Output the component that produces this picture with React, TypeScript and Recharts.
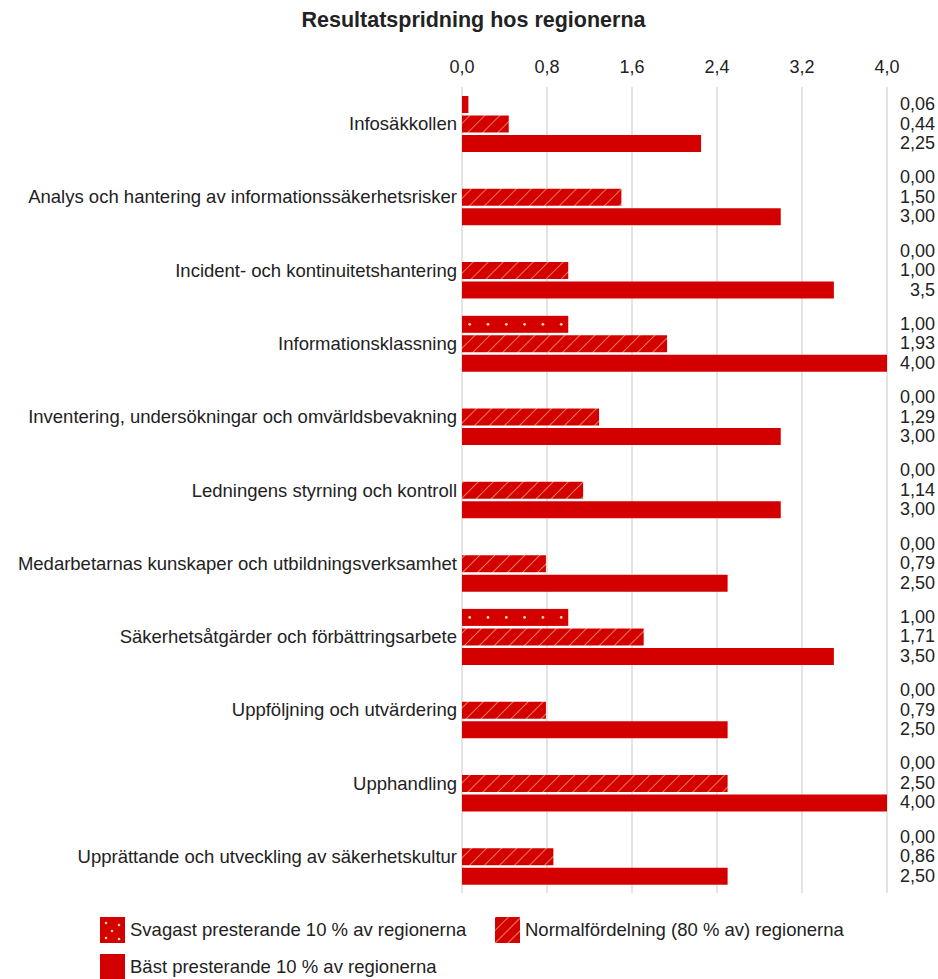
import { BarChart, Bar, XAxis, YAxis, CartesianGrid, LabelList } from 'recharts';

const categories = [
  'Infosäkkollen',
  'Analys och hantering av informationssäkerhetsrisker',
  'Incident- och kontinuitetshantering',
  'Informationsklassning',
  'Inventering, undersökningar och omvärldsbevakning',
  'Ledningens styrning och kontroll',
  'Medarbetarnas kunskaper och utbildningsverksamhet',
  'Säkerhetsåtgärder och förbättringsarbete',
  'Uppföljning och utvärdering',
  'Upphandling',
  'Upprättande och utveckling av säkerhetskultur',
];

const weakest = [0.06, 0, 0, 1.0, 0, 0, 0, 1.0, 0, 0, 0];
const normal = [0.44, 1.5, 1.0, 1.93, 1.29, 1.14, 0.79, 1.71, 0.79, 2.5, 0.86];
const best = [2.25, 3.0, 3.5, 4.0, 3.0, 3.0, 2.5, 3.5, 2.5, 4.0, 2.5];

const xTicks = [0, 0.8, 1.6, 2.4, 3.2, 4.0];

const seriesNames = {
  weakest: 'Svagast presterande 10 % av regionerna',
  normal: 'Normalfördelning (80 % av) regionerna',
  best: 'Bäst presterande 10 % av regionerna',
};

// one value in the source is printed with a single decimal
const labelOverrides: Record<string, string> = {
  'best|Incident- och kontinuitetshantering': '3,5',
};

const RED = '#d40000';
const TEXT = '#222';
const FONT = '"Liberation Sans", Arial, sans-serif';
const FS = 18.5;

const data = categories.map((name, i) => ({
  name,
  weakest: weakest[i],
  normal: normal[i],
  best: best[i],
}));

function fmt(v: number, decimals: number) {
  return v.toFixed(decimals).replace('.', ',');
}

function DottedBar(props: any) {
  const { x, y, width, height } = props;
  if (!width || width <= 0) return null;
  const dots = [];
  for (let cx = x + 7.7; cx < x + width - 3; cx += 18.3) {
    dots.push(<circle key={cx} cx={cx} cy={y + height / 2} r={1.4} fill="#f6d9a8" />);
  }
  return (
    <g>
      <rect x={x} y={y} width={width} height={height} fill={RED} />
      {dots}
    </g>
  );
}

function CategoryTick(props: any) {
  const { x, y, payload } = props;
  return (
    <text x={x + 3} y={y} textAnchor="end" dominantBaseline="central" fontSize={FS} fill={TEXT} fontFamily={FONT}>
      {payload.value}
    </text>
  );
}

function valueLabel(key: string) {
  return (props: any) => {
    const { y, height, value, index } = props;
    const cat = categories[index];
    const text = labelOverrides[`${key}|${cat}`] ?? fmt(Number(value), 2);
    return (
      <text
        key={`${key}-${index}`}
        x={935}
        y={Number(y) + Number(height) / 2 - 0.5}
        textAnchor="end"
        dominantBaseline="central"
        fontSize={18}
        fill={TEXT}
        fontFamily={FONT}
      >
        {text}
      </text>
    );
  };
}

function Swatch({ kind }: { kind: 'weakest' | 'normal' | 'best' }) {
  return (
    <svg width={25} height={26} style={{ display: 'block', marginRight: 5 }}>
      <defs>
        <pattern id="lg-hatch" patternUnits="userSpaceOnUse" width={9} height={9} patternTransform="rotate(45)">
          <rect width={9} height={9} fill={RED} />
          <line x1={0} y1={0} x2={0} y2={9} stroke="#f3b48a" strokeWidth={1.4} />
        </pattern>
      </defs>
      {kind === 'normal' ? (
        <rect width={25} height={26} fill="url(#lg-hatch)" />
      ) : (
        <rect width={25} height={26} fill={RED} />
      )}
      {kind === 'weakest' && (
        <g fill="#f6d9a8">
          <circle cx={6} cy={6} r={1.3} />
          <circle cx={19} cy={8} r={1.3} />
          <circle cx={12} cy={14} r={1.3} />
          <circle cx={6} cy={21} r={1.3} />
          <circle cx={19} cy={22} r={1.3} />
        </g>
      )}
    </svg>
  );
}

function LegendItem({ kind, left, top }: { kind: 'weakest' | 'normal' | 'best'; left: number; top: number }) {
  return (
    <div style={{ position: 'absolute', left, top, display: 'flex', alignItems: 'center', fontSize: FS, color: TEXT }}>
      <Swatch kind={kind} />
      <span>{seriesNames[kind]}</span>
    </div>
  );
}

export default function App() {
  return (
    <div style={{ position: 'absolute', left: 0, top: 0, width: 938, height: 979, fontFamily: FONT, background: '#fff' }}>
      <div
        style={{
          position: 'absolute',
          top: 8,
          left: 0,
          width: 947,
          textAlign: 'center',
          fontSize: 21.5,
          fontWeight: 'bold',
          color: TEXT,
        }}
      >
        Resultatspridning hos regionerna
      </div>
      <BarChart
        width={938}
        height={979}
        data={data}
        layout="vertical"
        margin={{ top: 40, right: 51, left: 0, bottom: 86 }}
        barSize={17}
        barGap={2.5}
      >
        <defs>
          <pattern id="hatch" patternUnits="userSpaceOnUse" width={10.6} height={10.6} patternTransform="rotate(45)">
            <rect width={10.6} height={10.6} fill={RED} />
            <line x1={0} y1={0} x2={0} y2={10.6} stroke="#f3b48a" strokeWidth={1.3} />
          </pattern>
        </defs>
        <CartesianGrid horizontal={false} stroke="#c9c9c9" />
        <XAxis
          type="number"
          orientation="top"
          domain={[0, 4]}
          ticks={xTicks}
          height={47}
          tickLine={false}
          axisLine={false}
          tickSize={6}
          tickMargin={8}
          tick={{ fontSize: 18, fill: TEXT, fontFamily: FONT }}
          tickFormatter={(v: number) => fmt(v, 1)}
        />
        <YAxis
          type="category"
          dataKey="name"
          width={462}
          tickLine={false}
          axisLine={false}
          interval={0}
          tick={<CategoryTick />}
        />
        <Bar dataKey="weakest" name={seriesNames.weakest} fill={RED} shape={<DottedBar />} isAnimationActive={false}>
          <LabelList dataKey="weakest" content={valueLabel('weakest')} />
        </Bar>
        <Bar dataKey="normal" name={seriesNames.normal} fill="url(#hatch)" isAnimationActive={false}>
          <LabelList dataKey="normal" content={valueLabel('normal')} />
        </Bar>
        <Bar dataKey="best" name={seriesNames.best} fill={RED} isAnimationActive={false}>
          <LabelList dataKey="best" content={valueLabel('best')} />
        </Bar>
      </BarChart>
      <LegendItem kind="weakest" left={100} top={917} />
      <LegendItem kind="normal" left={495} top={917} />
      <LegendItem kind="best" left={100} top={954} />
    </div>
  );
}
